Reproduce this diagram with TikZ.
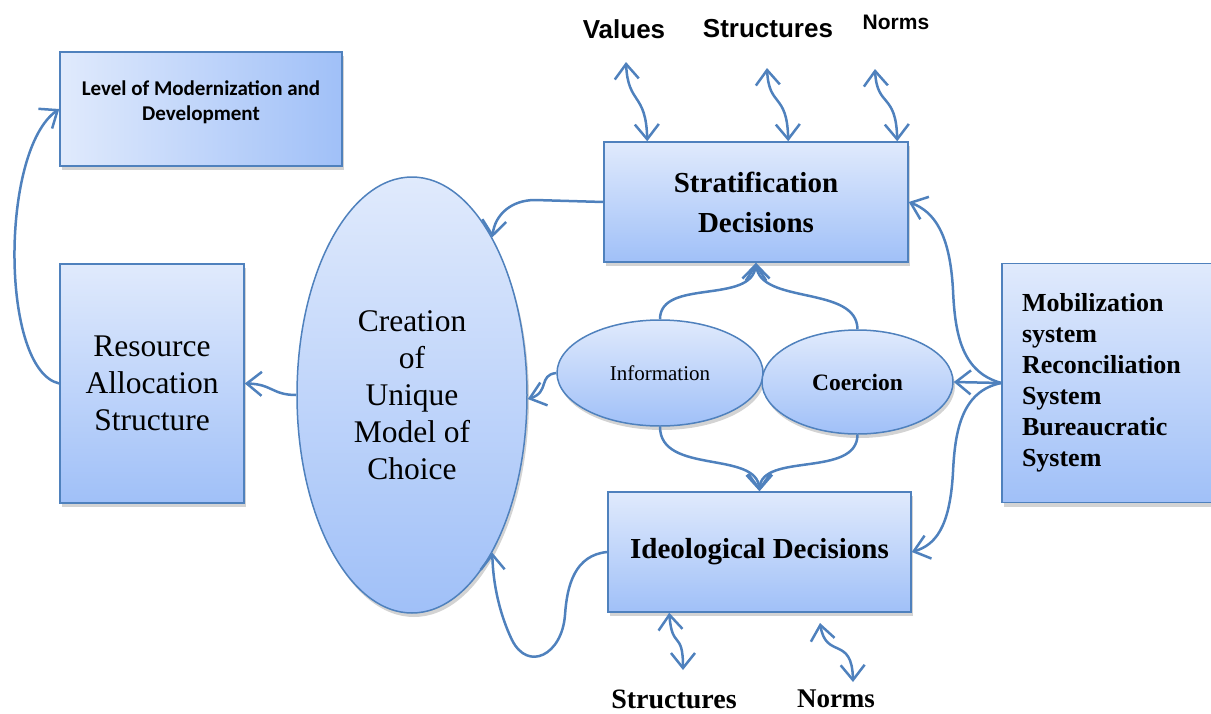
\documentclass[tikz,border=0pt]{standalone}
\usepackage{fontspec}
\setmainfont{Liberation Serif}
\newfontfamily\calib{Carlito}
\newfontfamily\arialf{Liberation Sans}
\usetikzlibrary{arrows.meta,shadows,shapes.geometric,calc}
\definecolor{edge}{RGB}{79,129,189}
\definecolor{ctop}{RGB}{224,234,252}
\definecolor{cbot}{RGB}{160,192,248}
\tikzset{
  shade/.style={drop shadow={opacity=0.35,shadow xshift=2pt,shadow yshift=-4pt}},
  box/.style={draw=edge,line width=1.5pt,top color=ctop,bottom color=cbot,shade,inner sep=0pt,align=center},
  hbox/.style={draw=edge,line width=1.5pt,left color=ctop,right color=cbot,shade,inner sep=0pt,align=center},
  ell/.style={ellipse,draw=edge,line width=1.5pt,top color=ctop,bottom color=cbot,shade,inner sep=0pt,align=center},
  tip/.tip={Straight Barb[length=15pt,width=24pt,line width=2.5pt]},
  conn/.style={draw=edge,line width=2.5pt,line join=round,-tip},
  dbl/.style={draw=edge,line width=2.5pt,line join=round,tip-tip},
  toplab/.style={font=\arialf\bfseries\fontsize{26}{30}\selectfont,inner sep=0pt},
  botlab/.style={font=\bfseries\fontsize{28}{32}\selectfont,inner sep=0pt}
}
\begin{document}
\begin{tikzpicture}[x=1pt,y=-1pt]
\useasboundingbox (0,0) rectangle (1211,713);
% nodes
\node[hbox,minimum width=282,minimum height=114,font=\calib\bfseries\fontsize{21}{25}\selectfont] (lvl) at (201,109) {Level of Modernization and\\Development\\[-8pt]\mbox{}};
\node[box,minimum width=184,minimum height=239,font=\fontsize{31.5}{37}\selectfont] (res) at (152,383.5) {Resource\\Allocation\\Structure};
\node[ell,minimum width=230,minimum height=436,font=\fontsize{31.5}{37}\selectfont] (cre) at (412,395) {Creation\\of\\Unique\\Model of\\Choice};
\node[box,minimum width=304,minimum height=120,font=\bfseries\fontsize{29}{40}\selectfont] (str) at (756,202) {Stratification\\Decisions};
\node[ell,minimum width=206,minimum height=106,font=\fontsize{21}{24}\selectfont] (inf) at (660,373) {Information};
\node[ell,minimum width=191,minimum height=104,font=\bfseries\fontsize{23.5}{26}\selectfont] (coe) at (857.5,382) {Coercion};
\node[box,minimum width=303,minimum height=120,font=\bfseries\fontsize{29}{34}\selectfont] (ide) at (759.5,552) {Ideological Decisions};
\node[box,minimum height=239,text width=170,inner xsep=20pt,align=left,font=\bfseries\fontsize{26}{31}\selectfont] (mob) at (1107,383) {Mobilization\\system\\Reconciliation\\System\\Bureaucratic\\System};
% labels
\node[toplab] (tv) at (624,29) {Values};
\node[toplab] (ts) at (768,29) {Structures};
\node[toplab,font=\arialf\bfseries\fontsize{21}{24}\selectfont] (tn) at (896,22) {Norms};
\node[botlab] (bs) at (674,699) {Structures};
\node[botlab,font=\bfseries\fontsize{27}{30}\selectfont] (bn) at (836,699) {Norms};
% free ends
\coordinate (v1) at (626,62);
\coordinate (s1) at (767,68);
\coordinate (n1) at (875,69);
\path (str.north west) ++(44,0) coordinate (v2);
\path (str.north west) ++(185,0) coordinate (s2);
\path (str.north west) ++(294,0) coordinate (n2);
\path (ide.south west) ++(62,0) coordinate (b1);
\coordinate (b2) at (683,670);
\coordinate (c1) at (820,623);
\coordinate (c2) at (853,682);
% wavy double arrows
\draw[dbl] (v1) .. controls (628,105) and (646,92) .. (v2);
\draw[dbl] (s1) .. controls (769,108) and (787,92) .. (s2);
\draw[dbl] (n1) .. controls (877,108) and (896,92) .. (n2);
\draw[dbl] (b1) .. controls (672,650) and (683,630) .. (b2);
\draw[dbl] (c1) .. controls (826,660) and (852,635) .. (c2);
% connectors
\draw[conn] (str.west) -- (535,200) .. controls (512,200) and (495,214) .. (cre.63.6);
\draw[conn] (inf.west) .. controls (538,375) and (550,392) .. (cre.-2);
\draw[conn] (cre.west) .. controls (272,395) and (272,384) .. (res.east);
\draw[conn] (res.west) .. controls (0,370) and (0,150) .. (lvl.west);
\draw[conn] (inf.north) .. controls (660,278) and (752,305) .. (str.south);
\draw[conn] (coe.north) .. controls (857,285) and (760,305) .. (str.south);
\draw[conn] (inf.south) .. controls (660,475) and (757,450) .. (ide.north);
\draw[conn] (coe.south) .. controls (857,478) and (761,452) .. (ide.north);
\draw[conn] (mob.west) -- (coe.east);
\draw[conn] (mob.west) .. controls (962,372) and (955,335) .. (953,290) .. controls (950,235) and (935,212) .. (str.east);
\draw[conn] (mob.west) .. controls (962,391) and (955,430) .. (953,472) .. controls (950,528) and (935,545) .. (ide.east);
\draw[conn] (ide.west) .. controls (575,555) and (567,585) .. (565,615) .. controls (562,655) and (528,672) .. (512,640) .. controls (500,615) and (493,585) .. (cre.-63.7);
\end{tikzpicture}
\end{document}
